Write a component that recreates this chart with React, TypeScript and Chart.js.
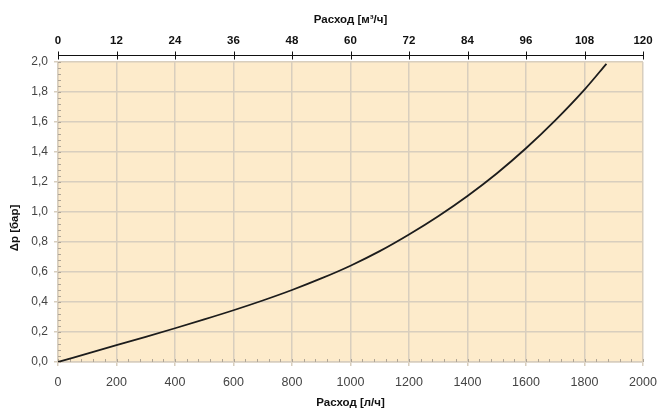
import React, { useEffect, useRef } from 'react';
import { Chart, registerables } from 'chart.js';

Chart.register(...registerables);

// Flow [l/h] and pressure drop [bar]
const flowLh = [0, 100, 200, 300, 400, 500, 600, 700, 800, 900, 1000, 1100, 1200, 1300, 1400, 1500, 1600, 1700, 1800, 1875];
const dpBar = [0, 0.056, 0.112, 0.168, 0.225, 0.284, 0.345, 0.41, 0.48, 0.557, 0.642, 0.739, 0.85, 0.972, 1.107, 1.257, 1.425, 1.611, 1.816, 1.988];

// Tick values
const bottomTicks = [0, 200, 400, 600, 800, 1000, 1200, 1400, 1600, 1800, 2000];
const topTicks = [0, 12, 24, 36, 48, 60, 72, 84, 96, 108, 120];
const yTicks = [0, 0.2, 0.4, 0.6, 0.8, 1.0, 1.2, 1.4, 1.6, 1.8, 2.0];

const bottomTitle = 'Расход [л/ч]';
const topTitle = 'Расход [м³/ч]';
const yTitle = 'Δp [бар]';

const FONT = '"Liberation Sans", Arial, Helvetica, sans-serif';
const PLOT_BG = '#FDEBCB';
const GRID = 'rgb(216,206,190)';
const MINOR = 'rgb(175,165,150)';

const decorPlugin = {
  id: 'decor',
  beforeDraw(chart: any) {
    const { ctx, chartArea: a } = chart;
    ctx.save();
    ctx.fillStyle = PLOT_BG;
    ctx.fillRect(a.left, a.top, a.right - a.left, a.bottom - a.top);
    ctx.restore();
  },
  beforeDatasetsDraw(chart: any) {
    const { ctx, chartArea: a, scales } = chart;
    ctx.save();
    ctx.strokeStyle = MINOR;
    ctx.lineWidth = 1;
    ctx.beginPath();
    const ys = scales.y;
    const yStep = (yTicks[1] - yTicks[0]) / 5;
    for (let i = 0; i <= (ys.max - ys.min) / yStep + 0.001; i++) {
      const y = Math.round(ys.getPixelForValue(ys.min + i * yStep)) + 0.5;
      ctx.moveTo(a.left, y);
      ctx.lineTo(a.left + 3, y);
    }
    const xs = scales.x;
    const xStep = (bottomTicks[1] - bottomTicks[0]) / 5;
    for (let i = 0; i <= (xs.max - xs.min) / xStep + 0.001; i++) {
      const x = Math.round(xs.getPixelForValue(xs.min + i * xStep)) + 0.5;
      ctx.moveTo(x, a.bottom);
      ctx.lineTo(x, a.bottom - 3);
    }
    ctx.stroke();
    ctx.restore();
  },
  afterDraw(chart: any) {
    const { ctx, chartArea: a, scales } = chart;
    ctx.save();
    // top axis line with crossing ticks
    const x2 = scales.x2;
    const yLine = a.top - 7 + 0.5;
    ctx.strokeStyle = '#111';
    ctx.lineWidth = 1;
    ctx.beginPath();
    ctx.moveTo(x2.left, yLine);
    ctx.lineTo(x2.right, yLine);
    x2.ticks.forEach((t: any) => {
      const x = Math.round(x2.getPixelForValue(t.value)) + 0.5;
      ctx.moveTo(x, yLine - 4);
      ctx.lineTo(x, yLine + 4);
    });
    ctx.stroke();
    // y axis title
    ctx.fillStyle = '#111';
    ctx.font = `bold 11.5px ${FONT}`;
    ctx.textAlign = 'center';
    ctx.textBaseline = 'middle';
    ctx.translate(15, (a.top + a.bottom) / 2 + 16);
    ctx.rotate(-Math.PI / 2);
    ctx.fillText(yTitle, 0, 0);
    ctx.restore();
  },
};

export default function App() {
  const ref = useRef<HTMLCanvasElement>(null);

  useEffect(() => {
    if (!ref.current) return;
    const chart = new Chart(ref.current, {
      type: 'line',
      data: {
        datasets: [
          {
            data: flowLh.map((x, i) => ({ x, y: dpBar[i] })),
            borderColor: '#1c1c1c',
            borderWidth: 1.8,
            pointRadius: 0,
            cubicInterpolationMode: 'monotone',
            fill: false,
          },
        ],
      },
      options: {
        animation: false,
        responsive: true,
        maintainAspectRatio: false,
        layout: { padding: { left: 0, right: 15, top: 0, bottom: 0 } },
        plugins: { legend: { display: false }, tooltip: { enabled: false } },
        scales: {
          x: {
            type: 'linear',
            position: 'bottom',
            min: 0,
            max: 2000,
            afterBuildTicks: (s: any) => { s.ticks = bottomTicks.map((v) => ({ value: v })); },
            afterFit: (s: any) => { s.height = 48; s.paddingLeft = 0; s.paddingRight = 0; },
            grid: { color: GRID, lineWidth: 1.5, tickLength: 4 },
            border: { display: true, color: GRID, width: 1.5 },
            ticks: {
              padding: 9,
              color: '#444',
              font: { family: FONT, size: 12.5 },
              maxRotation: 0,
              autoSkip: false,
              callback: (v: any) => String(v),
            },
            title: {
              display: true,
              text: bottomTitle,
              color: '#111',
              font: { family: FONT, size: 11.5, weight: 'bold' },
              padding: { top: 0, bottom: 0 },
            },
          },
          x2: {
            type: 'linear',
            position: 'top',
            min: 0,
            max: 120,
            afterBuildTicks: (s: any) => { s.ticks = topTicks.map((v) => ({ value: v })); },
            afterFit: (s: any) => { s.height = 62; s.paddingLeft = 0; s.paddingRight = 0; },
            grid: { display: true, drawOnChartArea: false, drawTicks: false },
            border: { display: false },
            ticks: {
              padding: 14,
              color: '#111',
              font: { family: FONT, size: 11.5, weight: 'bold' },
              maxRotation: 0,
              autoSkip: false,
              callback: (v: any) => String(v),
            },
            title: {
              display: true,
              text: topTitle,
              color: '#111',
              font: { family: FONT, size: 11.5, weight: 'bold' },
              padding: { top: 13, bottom: 0 },
            },
          },
          y: {
            type: 'linear',
            position: 'left',
            min: 0,
            max: 2,
            afterBuildTicks: (s: any) => { s.ticks = yTicks.map((v) => ({ value: v })); },
            afterFit: (s: any) => { s.width = 58; },
            grid: { color: GRID, lineWidth: 1.5, tickLength: 4 },
            border: { display: true, color: GRID, width: 1.5 },
            ticks: {
              padding: 6,
              color: '#444',
              font: { family: FONT, size: 12 },
              autoSkip: false,
              callback: (v: any) => Number(v).toFixed(1).replace('.', ','),
            },
          },
        },
      } as any,
      plugins: [decorPlugin],
    });
    return () => chart.destroy();
  }, []);

  return (
    <div style={{ position: 'fixed', left: 0, top: 0, width: 658, height: 410, background: '#fff' }}>
      <canvas ref={ref} />
    </div>
  );
}
